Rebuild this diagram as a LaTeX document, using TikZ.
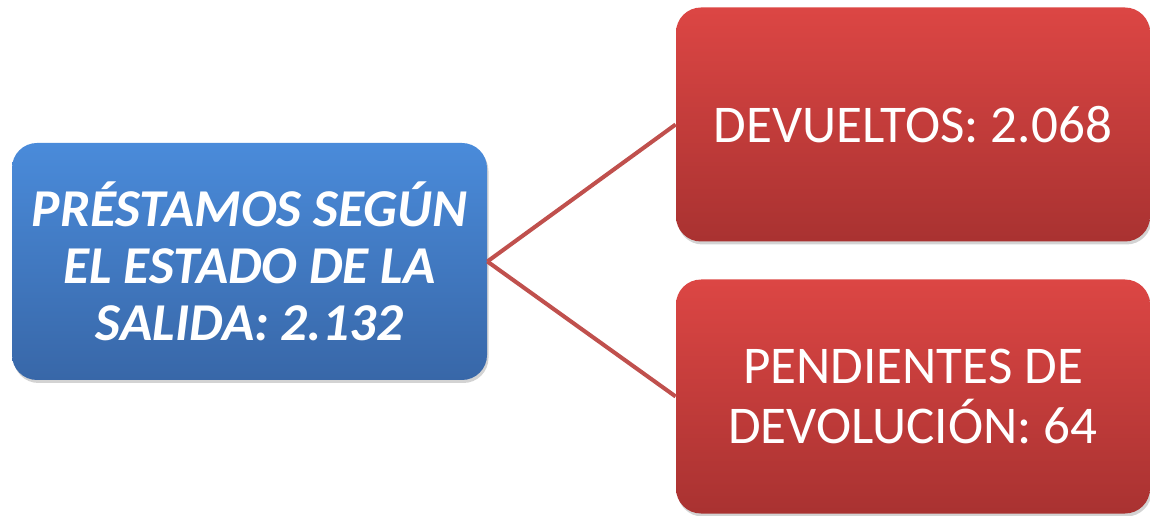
\documentclass[tikz,border=0pt]{standalone}
\usepackage{fontspec}
\setmainfont{Carlito}
\usepackage{xcolor}
\definecolor{xbluetop}{HTML}{4A8BDA}
\definecolor{xbluebot}{HTML}{3867A8}
\definecolor{xredtop}{HTML}{DC4644}
\definecolor{xredbot}{HTML}{A93231}
\definecolor{xline}{HTML}{C0504D}
\usetikzlibrary{shadows}
\tikzset{
  %% Styles %%
  box/.style = {rounded corners=0.5cm, draw=none, text=white, align=center,
    minimum width=#1, inner sep=0pt, drop shadow={shadow xshift=0.03cm, shadow yshift=-0.06cm, opacity=0.35}},
  rootbox/.style = {box=9.5cm, minimum height=4.74cm, top color=xbluetop, bottom color=xbluebot,
    font=\fontsize{30.3}{32.6}\selectfont\bfseries\itshape},
  leafbox/.style = {box=9.48cm, minimum height=4.68cm, top color=xredtop, bottom color=xredbot,
    font=\fontsize{30.2}{33.6}\selectfont},
  link/.style = {xline, line width=2.3pt},
}
\begin{document}
\begin{tikzpicture}
  \useasboundingbox (0,0) rectangle (23,10.3);
  \node[rootbox] (root) at (4.99,5.07) {PRÉSTAMOS SEGÚN\\EL ESTADO DE LA\\SALIDA: 2.132};
  \node[leafbox] (back) at (18.26,7.81) {DEVUELTOS: 2.068};
  \node[leafbox] (open) at (18.26,2.37) {PENDIENTES DE\\DEVOLUCIÓN: 64};
  \draw[link] (root.east) -- (back.west);
  \draw[link] (root.east) -- (open.west);
\end{tikzpicture}
\end{document}
